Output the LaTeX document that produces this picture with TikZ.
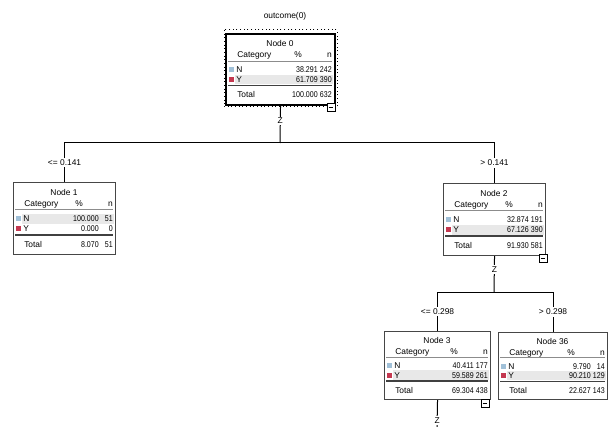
\documentclass[tikz,border=0pt]{standalone}
\usepackage{fontspec}
\setmainfont{Liberation Sans}
\newfontfamily\numfont[FakeStretch=0.84]{Liberation Sans}
\usetikzlibrary{calc}
\definecolor{catN}{RGB}{160,192,216}
\definecolor{catY}{RGB}{196,56,80}
\definecolor{rowshade}{RGB}{232,232,232}
\definecolor{bord}{RGB}{70,70,70}
\tikzset{
  txt/.style={font=\fontsize{6.3}{7}\selectfont, inner sep=0pt, text=black},
  num/.style={font=\fontsize{6.3}{7}\selectfont\numfont, inner sep=0pt, text=black},
  tbox/.style={draw=bord, line width=0.8pt, inner sep=0pt, fill=white},
  conn/.style={draw=black, line width=0.75pt},
  lbl/.style={txt, fill=white, inner sep=1.2pt},
  hline/.style={draw=black!45, line width=0.5pt},
  tline/.style={draw=black!75, line width=1.1pt},
  minusbox/.style={draw=black, line width=0.6pt, fill=white, minimum size=6pt, inner sep=0pt,
    path picture={\draw[line width=0.6pt] ([xshift=1.2pt]path picture bounding box.west) -- ([xshift=-1.2pt]path picture bounding box.east);}},
}
% name, L, T, R, B, title
\newcommand\tnodebox[6]{%
  \pgfmathsetmacro\tnL{#2}\pgfmathsetmacro\tnT{#3}\pgfmathsetmacro\tnR{#4}\pgfmathsetmacro\tnH{#5-#3}%
  \node[tbox, minimum width={(#4-#2)*0.75pt}, minimum height={(#5-#3)*0.75pt}, anchor=north west] (#1) at (#2,#3) {};
  \node[txt, anchor=base] (#1-title) at ({(#2+#4)/2},{#3+0.14*\tnH+3}) {#6};
}
% name, Npct, Nn, Ypct, Yn, Tpct, Tn, shaded row fraction
\newcommand\tnrows[8]{%
  \fill[rowshade] ({\tnL+9},{\tnT+(#8-0.07)*\tnH}) rectangle ({\tnR-1},{\tnT+(#8+0.07)*\tnH});
  \node[txt,anchor=base west] (#1-cat) at ({\tnL+11},{\tnT+0.30*\tnH+3}) {Category};
  \node[txt,anchor=base] (#1-pcth) at ({\tnR-36},{\tnT+0.30*\tnH+3}) {\%};
  \node[txt,anchor=base east] (#1-nh) at ({\tnR-2},{\tnT+0.30*\tnH+3}) {n};
  \draw[hline] ({\tnL+2},{\tnT+0.385*\tnH}) -- ({\tnR-2},{\tnT+0.385*\tnH});
  \fill[catN] ({\tnL+3},{\tnT+0.51*\tnH-2.5}) rectangle ++(5,5);
  \node[txt,anchor=base west] (#1-nl) at ({\tnL+10},{\tnT+0.51*\tnH+3}) {N};
  \node[num,anchor=base east] (#1-np) at ({\tnR-16},{\tnT+0.51*\tnH+3}) {#2};
  \node[num,anchor=base east] (#1-nn) at ({\tnR-2},{\tnT+0.51*\tnH+3}) {#3};
  \fill[catY] ({\tnL+3},{\tnT+0.65*\tnH-2.5}) rectangle ++(5,5);
  \node[txt,anchor=base west] (#1-yl) at ({\tnL+10},{\tnT+0.65*\tnH+3}) {Y};
  \node[num,anchor=base east] (#1-yp) at ({\tnR-16},{\tnT+0.65*\tnH+3}) {#4};
  \node[num,anchor=base east] (#1-yn) at ({\tnR-2},{\tnT+0.65*\tnH+3}) {#5};
  \draw[tline] ({\tnL+2},{\tnT+0.735*\tnH}) -- ({\tnR-2},{\tnT+0.735*\tnH});
  \node[txt,anchor=base west] (#1-tl) at ({\tnL+11},{\tnT+0.87*\tnH+3}) {Total};
  \node[num,anchor=base east] (#1-tp) at ({\tnR-16},{\tnT+0.87*\tnH+3}) {#6};
  \node[num,anchor=base east] (#1-tn) at ({\tnR-2},{\tnT+0.87*\tnH+3}) {#7};
}
\begin{document}
\begin{tikzpicture}[x=0.75pt,y=-0.75pt]
\fill[white] (0,0) rectangle (609,427);
\useasboundingbox (0,0) rectangle (609,427);

\node[txt] (target) at (285,16) {outcome(0)};

% Node 0 (selected)
\draw[black, line width=0.75pt, dotted] (224,30) rectangle (337,107);
\tnodebox{n0}{226}{34}{334}{104}{Node 0}
\draw[black, line width=1.6pt] (n0.north west) rectangle (n0.south east);
\tnrows{n0}{38.291}{242}{61.709}{390}{100.000}{632}{0.65}

\tnodebox{n1}{13}{182}{115}{254}{Node 1}
\tnrows{n1}{100.000}{51}{0.000}{0}{8.070}{51}{0.51}

\tnodebox{n2}{443}{183}{545}{255}{Node 2}
\tnrows{n2}{32.874}{191}{67.126}{390}{91.930}{581}{0.65}

\tnodebox{n3}{384}{331}{490}{399}{Node 3}
\tnrows{n3}{40.411}{177}{59.589}{261}{69.304}{438}{0.65}

\tnodebox{n36}{498}{332}{607}{399}{Node 36}
\tnrows{n36}{9.790}{14}{90.210}{129}{22.627}{143}{0.65}

% connectors
\coordinate (j0) at (280,143);
\coordinate (j2) at (494,292);
\coordinate (e3) at (437,427);
\draw[conn] (n0.south) -- node[lbl, pos=0.42] (z0) {Z} (j0);
\draw[conn] (j0) -| node[lbl, pos=0.75] (l1) {<= 0.141} (n1.north);
\draw[conn] (j0) -| node[lbl, pos=0.75] (l2) {> 0.141} (n2.north);
\draw[conn] (n2.south) -- node[lbl, pos=0.38] (z2) {Z} (j2);
\draw[conn] (j2) -| node[lbl, pos=0.75] (l3) {<= 0.298} (n3.north);
\draw[conn] (j2) -| node[lbl, pos=0.75] (l36) {> 0.298} (n36.north);
\draw[conn] (n3.south) -- node[lbl, pos=0.75] (z3) {Z} (e3);

% collapse boxes
\node[minusbox] (m0) at (331,107.5) {};
\node[minusbox] (m2) at (543,258) {};
\node[minusbox] (m3) at (485,403) {};
\end{tikzpicture}
\end{document}
